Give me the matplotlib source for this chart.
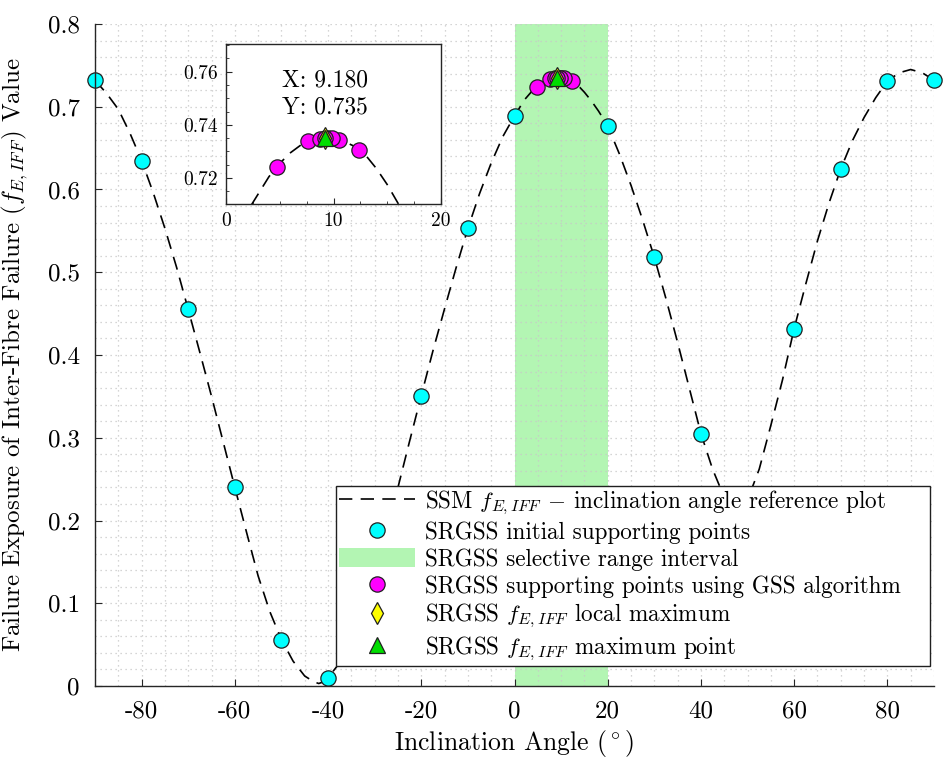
import matplotlib
matplotlib.use('Agg')
import matplotlib.pyplot as plt
from matplotlib.ticker import MultipleLocator

plt.rcParams['font.family'] = ['cmr10', 'DejaVu Serif']
plt.rcParams['mathtext.fontset'] = 'cm'
plt.rcParams['axes.unicode_minus'] = False
plt.rcParams['axes.formatter.use_mathtext'] = True

# reference curve
x_ref = [-90, -87.5, -85, -82.5, -80, -77.5, -75, -72.5, -70, -67.5, -65, -62.5,
         -60, -57.5, -55, -52.5, -50, -47.5, -45, -43, -42, -41, -40, -37.5, -35,
         -32.5, -30, -27.5, -25, -22.5, -20, -17.5, -15, -12.5, -10, -7.5, -5, -2.5,
         0, 1, 2, 3, 4, 5, 6, 7, 8, 9, 10, 11, 12, 13, 14, 15, 16, 17, 18, 19, 20,
         22.5, 25, 27.5, 30, 32.5, 35, 37.5, 40, 42.5, 45, 47.5, 50, 52.5, 55, 57.5,
         60, 62.5, 65, 67.5, 70, 72.5, 75, 77.5, 80, 82.5, 85, 87.5, 90]
y_ref = [0.732, 0.716, 0.697, 0.668, 0.635, 0.596, 0.553, 0.506, 0.455, 0.403, 0.350, 0.295,
         0.240, 0.186, 0.133, 0.090, 0.056, 0.030, 0.012, 0.005, 0.003, 0.005, 0.010, 0.028, 0.055,
         0.090, 0.132, 0.183, 0.240, 0.296, 0.351, 0.405, 0.456, 0.506, 0.553, 0.595, 0.632, 0.664,
         0.689, 0.698, 0.7075, 0.714, 0.7205, 0.7255, 0.7295, 0.7325, 0.7345, 0.7352, 0.7350,
         0.7337, 0.7318, 0.7285, 0.7235, 0.7175, 0.7105, 0.703, 0.695, 0.686, 0.677,
         0.643, 0.605, 0.563, 0.518, 0.468, 0.415, 0.360, 0.305, 0.262, 0.228, 0.213, 0.225,
         0.262, 0.315, 0.370, 0.432, 0.486, 0.538, 0.584, 0.625, 0.659, 0.687, 0.711,
         0.731, 0.741, 0.745, 0.741, 0.732]

# initial supporting points
x_init = [-90, -80, -70, -60, -50, -40, -30, -20, -10, 0, 10, 20, 30, 40, 50, 60, 70, 80, 90]
y_init = [0.732, 0.635, 0.455, 0.240, 0.056, 0.010, 0.132, 0.351, 0.553, 0.689, 0.735,
          0.677, 0.518, 0.305, 0.225, 0.432, 0.625, 0.731, 0.732]

# selective range
range_lo, range_hi = 0, 20

# GSS supporting points
x_gss = [7.639, 12.361, 4.721, 9.443, 10.557, 8.754, 9.868, 9.180]
y_gss = [0.7339, 0.7306, 0.7240, 0.7351, 0.7343, 0.7348, 0.7349, 0.7352]

x_max = 9.180
y_max = 0.7352

xticks = [-80, -60, -40, -20, 0, 20, 40, 60, 80]
yticks = [0, 0.1, 0.2, 0.3, 0.4, 0.5, 0.6, 0.7, 0.8]
ytick_labels = ['0', '0.1', '0.2', '0.3', '0.4', '0.5', '0.6', '0.7', '0.8']

dash = (0, (8, 5))
grid_ls = (0, (1, 3))

fig = plt.figure(figsize=(9.44, 7.64), dpi=100)
ax = fig.add_axes([95/944, 78/764, 839/944, 662/764])

ax.axvspan(range_lo, range_hi, color='#b3f5b3', lw=0, zorder=0.2,
           label='SRGSS selective range interval')
l1, = ax.plot(x_ref, y_ref, color='k', ls=dash, lw=1.2,
              label=r'SSM $f_{E,IFF}$ $-$ inclination angle reference plot')
l2, = ax.plot(x_init, y_init, 'o', mfc='cyan', mec='#202020', ms=11, mew=0.9, clip_on=False,
              label='SRGSS initial supporting points')
l3, = ax.plot(x_gss, y_gss, 'o', mfc='magenta', mec='#202020', ms=11, mew=0.9, clip_on=False,
              label='SRGSS supporting points using GSS algorithm')
l4, = ax.plot([x_max], [y_max], 'd', mfc='yellow', mec='#202020', ms=11, mew=0.9, clip_on=False,
              label=r'SRGSS $f_{E,IFF}$ local maximum')
l5, = ax.plot([x_max], [y_max], '^', mfc='#00dd00', mec='#202020', ms=11, mew=0.9, clip_on=False,
              label=r'SRGSS $f_{E,IFF}$ maximum point')

ax.set_xlim(-90, 90)
ax.set_ylim(0, 0.8)
ax.set_xticks(xticks)
ax.set_xticklabels([str(t) for t in xticks])
ax.set_yticks(yticks)
ax.set_yticklabels(ytick_labels)
ax.xaxis.set_minor_locator(MultipleLocator(5))
ax.yaxis.set_minor_locator(MultipleLocator(0.02))
ax.tick_params(which='major', direction='in', length=5, labelsize=18, color='#262626')
ax.tick_params(axis='x', which='major', pad=10)
ax.tick_params(axis='y', which='major', pad=11)
ax.tick_params(which='minor', length=0)
ax.set_axisbelow(True)
ax.grid(True, which='both', ls=grid_ls, lw=0.9, color='#c8c8c8')
ax.spines['top'].set_visible(False)
ax.spines['right'].set_visible(False)
for s in ['left', 'bottom']:
    ax.spines[s].set_color('#262626')
    ax.spines[s].set_linewidth(1.0)

ax.set_xlabel(r'Inclination Angle ($^\circ$)', fontsize=18.5)
ax.set_ylabel(r'Failure Exposure of Inter-Fibre Failure ($f_{E,IFF}$) Value', fontsize=18)
ax.xaxis.set_label_coords(0.5, -0.064)
ax.yaxis.set_label_coords(-0.077, 0.5)

handles, labels = ax.get_legend_handles_labels()
order = [1, 2, 0, 3, 4, 5]
leg = ax.legend([handles[i] for i in order], [labels[i] for i in order],
                loc='lower left', bbox_to_anchor=(336/944, 98/764, 594/944, 182/764),
                bbox_transform=fig.transFigure, borderaxespad=0, mode='expand',
                fontsize=16.7, frameon=True, fancybox=False, framealpha=1,
                edgecolor='#202020', handlelength=3.3, handletextpad=0.4,
                handleheight=0.9, labelspacing=0.18, borderpad=0.12)
leg.get_frame().set_linewidth(1.0)
leg.set_zorder(10)

# inset
ax_in = fig.add_axes([226/944, (764-204)/764, 215/944, 160/764])
ax_in.plot(x_ref, y_ref, color='k', ls=dash, lw=1.2)
ax_in.plot(x_gss, y_gss, 'o', mfc='magenta', mec='#202020', ms=11, mew=0.9)
ax_in.plot([x_max], [y_max], 'd', mfc='yellow', mec='#202020', ms=11, mew=0.9)
ax_in.plot([x_max], [y_max], '^', mfc='#00dd00', mec='#202020', ms=11, mew=0.9)
ax_in.set_xlim(0, 20)
ax_in.set_ylim(0.7102, 0.7704)
ax_in.set_xticks([0, 10, 20])
ax_in.set_xticklabels(['0', '10', '20'])
ax_in.set_yticks([0.72, 0.74, 0.76])
ax_in.set_yticklabels(['0.72', '0.74', '0.76'])
ax_in.yaxis.set_minor_locator(MultipleLocator(0.005))
ax_in.xaxis.set_minor_locator(MultipleLocator(2.5))
ax_in.tick_params(which='both', direction='in', labelsize=14, color='#262626')
ax_in.tick_params(which='major', length=4, pad=6)
ax_in.tick_params(which='minor', length=2)
for s in ax_in.spines.values():
    s.set_color('#262626')
    s.set_linewidth(1.0)
ax_in.text(9.2, 0.7515, 'X: {:.3f}\nY: {:.3f}'.format(x_max, y_max),
           ha='center', va='center', fontsize=17, linespacing=1.3)

fig.savefig('out.png', dpi=100)
